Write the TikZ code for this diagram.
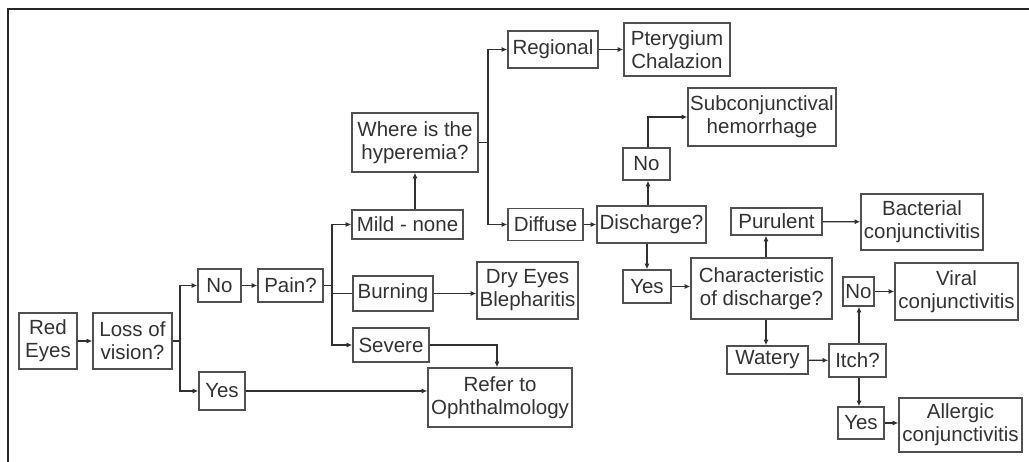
\documentclass[tikz,border=0pt]{standalone}
\usepackage{fontspec}
\setmainfont{Liberation Sans}
\usetikzlibrary{arrows.meta}
\definecolor{boxline}{HTML}{505050}
\definecolor{wire}{HTML}{303030}
\definecolor{ink}{HTML}{333333}
\begin{document}
\begin{tikzpicture}[x=1pt,y=-1pt,
  box/.style={draw=boxline,line width=1.6pt,fill=white,inner sep=0pt,align=center,
    text=ink,font=\fontsize{20.5}{23}\selectfont},
  sz/.style 2 args={minimum width=#1pt,minimum height=#2pt},
  arr/.style={draw=wire,line width=1.3pt,-{Latex[length=5.5pt,width=5pt]}},
  ln/.style={draw=wire,line width=1.3pt}]
\useasboundingbox (0,0) rectangle (1029,462);
\fill[white] (0,0) rectangle (1029,462);
% outer frame (top and left edges)
\draw[line width=2.2pt,draw=black!85] (8,462) -- (8,9) -- (1029,9);

% nodes
\node[box,sz={58}{56}] (redeyes) at (48,341) {Red\\Eyes};
\node[box,sz={79}{56}] (loss) at (132.5,341) {Loss of\\vision?};
\node[box,sz={43}{33}] (no1) at (219.5,285.5) {No};
\node[box,sz={65}{33}] (pain) at (290.5,285.5) {Pain?};
\node[box,sz={46}{38}] (yes1) at (222,391) {Yes};
\node[box,sz={111}{29}] (mild) at (407.5,224.5) {Mild - none};
\node[box,sz={80}{35}] (burning) at (393,293.5) {Burning};
\node[box,sz={76}{34}] (severe) at (391,345) {Severe};
\node[box,sz={101}{57}] (dryeyes) at (527.5,290.5) {Dry Eyes\\Blepharitis};
\node[box,sz={144}{59}] (refer) at (500,397.5) {Refer to\\Ophthalmology};
\node[box,sz={126}{59}] (where) at (415,142.5) {Where is the\\hyperemia?};
\node[box,sz={90}{37}] (regional) at (553,49.5) {Regional};
\node[box,sz={106}{53}] (pteryg) at (677,49.5) {Pterygium\\Chalazion};
\node[box,sz={75}{32}] (diffuse) at (545.5,224.5) {Diffuse};
\node[box,sz={109}{37}] (discharge) at (651.5,224.5) {Discharge?};
\node[box,sz={47}{32}] (no2) at (646.5,164) {No};
\node[box,sz={148}{58}] (subconj) at (762,117) {Subconjunctival\\hemorrhage};
\node[box,sz={48}{33}] (yes2) at (647,286.5) {Yes};
\node[box,sz={141}{61}] (char) at (761.5,288.5) {Characteristic\\of discharge?};
\node[box,sz={91}{27}] (purulent) at (776.5,221.5) {Purulent};
\node[box,sz={122}{56}] (bacterial) at (922,222) {Bacterial\\conjunctivitis};
\node[box,sz={81}{28}] (watery) at (767.5,360) {Watery};
\node[box,sz={57}{33}] (itch) at (857.5,360.5) {Itch?};
\node[box,sz={31}{29}] (no3) at (858.5,291.5) {No};
\node[box,sz={123}{57}] (viral) at (956.5,291.5) {Viral\\conjunctivitis};
\node[box,sz={46}{32}] (yes3) at (861,423) {Yes};
\node[box,sz={123}{54}] (allergic) at (960.5,425) {Allergic\\conjunctivitis};

% branch points
\coordinate (lb) at (180,341);
\coordinate (pb) at (332,285.5);
\coordinate (wb) at (488,142.5);

% connectors
\draw[arr] (redeyes) -- (loss);
\draw[ln] (loss.east) -- (lb);
\draw[arr] (lb) |- (no1.west);
\draw[arr] (lb) |- (yes1.west);
\draw[arr] (no1) -- (pain);
\draw[ln] (pain.east) -- (pb);
\draw[arr] (pb) |- (mild.west);
\draw[ln] (pb) |- (burning.west);
\draw[arr] (pb) |- (severe.west);
\draw[arr] (where.south |- mild.north) -- (where.south);
\draw[ln] (where.east) -- (wb);
\draw[arr] (wb) |- (regional.west);
\draw[arr] (wb) |- (diffuse.west);
\draw[arr] (regional) -- (pteryg);
\draw[arr] (burning.east) -- (burning.east -| dryeyes.west);
\draw[arr] (severe.east) -| ([xshift=-3pt]refer.north);
\draw[arr] (yes1.east) -- (yes1.east -| refer.west);
\draw[arr] (diffuse) -- (discharge);
\draw[arr] ([xshift=-3.5pt]discharge.north) -- ([xshift=-3.5pt]discharge.north |- no2.south);
\draw[arr] ([xshift=1.5pt]no2.north) |- (subconj.west);
\draw[arr] ([xshift=-4.5pt]discharge.south) -- ([xshift=-4.5pt]discharge.south |- yes2.north);
\draw[arr] (yes2.east) -- (yes2.east -| char.west);
\draw[arr] ([xshift=4.5pt]char.north) -- ([xshift=4.5pt]char.north |- purulent.south);
\draw[arr] (purulent) -- (bacterial);
\draw[arr] ([xshift=4.5pt]char.south) -- ([xshift=4.5pt]char.south |- watery.north);
\draw[arr] (watery) -- (itch);
\draw[arr] ([xshift=1.5pt]itch.north) -- ([xshift=1.5pt]itch.north |- no3.south);
\draw[arr] (no3) -- (no3 -| viral.west);
\draw[arr] ([xshift=1.5pt]itch.south) -- ([xshift=1.5pt]itch.south |- yes3.north);
\draw[arr] (yes3) -- (yes3 -| allergic.west);
\end{tikzpicture}
\end{document}
